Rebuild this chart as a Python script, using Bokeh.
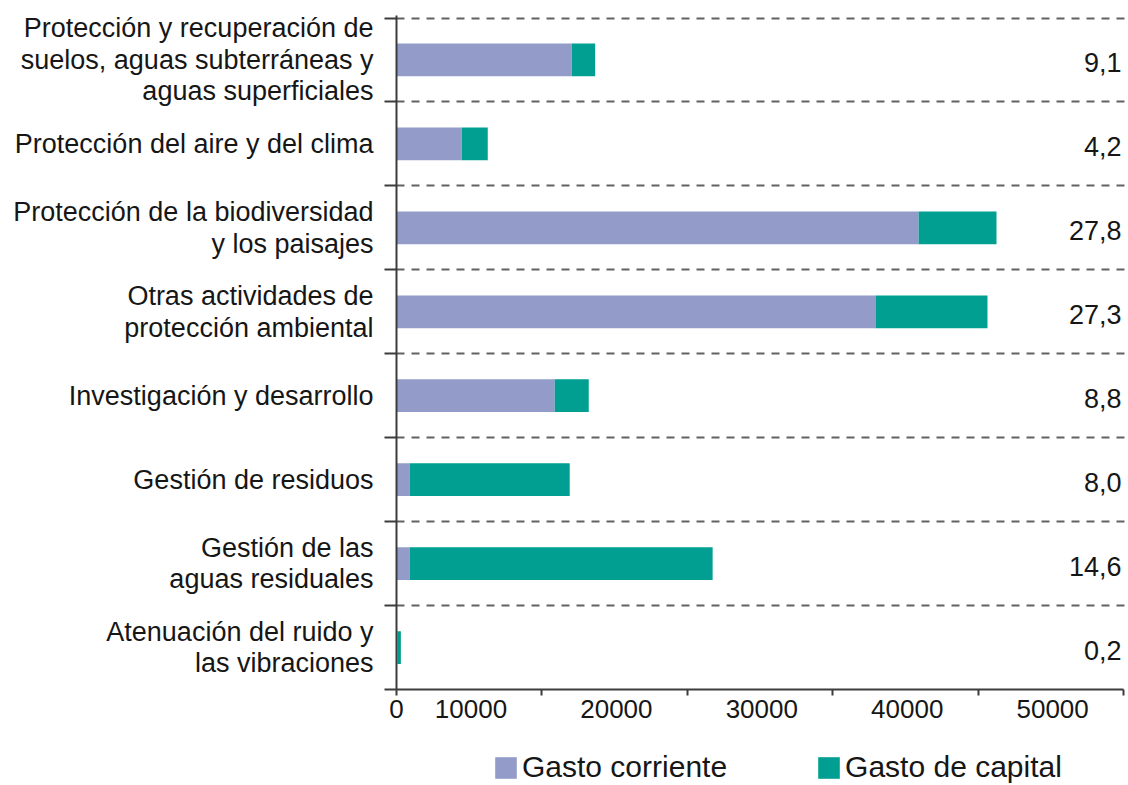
from bokeh.plotting import figure
from bokeh.layouts import column
from bokeh.models import Range1d, FixedTicker, Legend, LegendItem, ColumnDataSource
from bokeh.core.properties import value
from bokeh.embed import file_html
from bokeh.resources import INLINE

# ---- data ----
categories = [
    "Protección y recuperación de\nsuelos, aguas subterráneas y\naguas superficiales",
    "Protección del aire y del clima",
    "Protección de la biodiversidad\ny los paisajes",
    "Otras actividades de\nprotección ambiental",
    "Investigación y desarrollo",
    "Gestión de residuos",
    "Gestión de las\naguas residuales",
    "Atenuación del ruido y\nlas vibraciones",
]
gasto_corriente = [12050, 4490, 35900, 32940, 10880, 915, 915, 90]
gasto_capital = [1610, 1785, 5360, 7700, 2340, 10995, 20825, 210]
porcentaje = [9.1, 4.2, 27.8, 27.3, 8.8, 8.0, 14.6, 0.2]
x_ticks = [0, 10000, 20000, 30000, 40000, 50000]
x_tick_labels = ["0", "10000", "20000", "30000", "40000", "50000"]
series_names = ["Gasto corriente", "Gasto de capital"]
colors = ["#939CC8", "#009F91"]

# ---- styling constants ----
FONT = "Liberation Sans"
TEXT_COLOR = "#161616"
AXIS_COLOR = "#3c3c3c"
LABEL_SHIFT = 4880  # the reference prints tick labels shifted left of their tick marks

n = len(categories)
y_pos = [n - i - 0.5 for i in range(n)]

src = ColumnDataSource(dict(
    y=y_pos,
    corriente=gasto_corriente,
    capital=gasto_capital,
    lbl=[f"{v:.1f}".replace(".", ",") for v in porcentaje],
    xl=[x_ticks[-1]] * n,
))

p = figure(
    width=1128, height=738,
    x_range=Range1d(0, 50200), y_range=Range1d(0, n + 0.03),
    output_backend="svg", toolbar_location=None,
    min_border_left=396, min_border_right=2, min_border_top=15, min_border_bottom=49,
)
p.outline_line_color = None
p.background_fill_color = "white"

rs = p.hbar_stack(["corriente", "capital"], y="y", height=0.39, color=colors,
                  line_color=None, source=src)

p.text(x="xl", y="y", text="lbl", source=src, text_align="right",
       text_baseline="middle", x_offset=-2, y_offset=3, text_font=value(FONT),
       text_font_size="27px", text_color=TEXT_COLOR)

# y axis: labels at band centres, tick marks / dashed lines at band boundaries
y_ticker = FixedTicker(ticks=y_pos, minor_ticks=list(range(n + 1)))
p.yaxis.ticker = y_ticker
p.ygrid.ticker = y_ticker
p.yaxis.major_label_overrides = {y_pos[i]: categories[i] for i in range(n)}
p.yaxis.axis_line_color = AXIS_COLOR
p.yaxis.axis_line_width = 2
p.yaxis.major_tick_line_color = None
p.yaxis.major_tick_out = 0
p.yaxis.major_tick_in = 0
p.yaxis.minor_tick_line_color = AXIS_COLOR
p.yaxis.minor_tick_line_width = 2
p.yaxis.minor_tick_out = 12
p.yaxis.minor_tick_in = 0
p.yaxis.major_label_standoff = 11
p.yaxis.major_label_text_font = FONT
p.yaxis.major_label_text_font_size = "27px"
p.yaxis.major_label_text_color = TEXT_COLOR
p.yaxis.major_label_text_line_height = 1.05

p.ygrid.grid_line_color = None
p.ygrid.minor_grid_line_color = "#626262"
p.ygrid.minor_grid_line_width = 2
p.ygrid.minor_grid_line_dash = "8 7"
p.xgrid.visible = False

# x axis
label_pos = [x_ticks[0]] + [t - LABEL_SHIFT for t in x_ticks[1:]]
x_ticker = FixedTicker(ticks=label_pos, minor_ticks=x_ticks)
p.xaxis.ticker = x_ticker
p.xaxis.major_label_overrides = {label_pos[i]: x_tick_labels[i] for i in range(len(x_ticks))}
p.xaxis.bounds = (x_ticks[0], x_ticks[-1])
p.xaxis.axis_line_color = AXIS_COLOR
p.xaxis.axis_line_width = 2
p.xaxis.major_tick_line_color = None
p.xaxis.major_tick_out = 0
p.xaxis.major_tick_in = 0
p.xaxis.minor_tick_line_color = AXIS_COLOR
p.xaxis.minor_tick_line_width = 2
p.xaxis.minor_tick_out = 6
p.xaxis.minor_tick_in = 0
p.xaxis.major_label_standoff = 4
p.xaxis.major_label_text_font = FONT
p.xaxis.major_label_text_font_size = "26px"
p.xaxis.major_label_text_color = TEXT_COLOR

# ---- legend in its own strip below the chart ----
lg = figure(width=1128, height=46, x_range=Range1d(0, 1), y_range=Range1d(0, 1),
            x_axis_type=None, y_axis_type=None, output_backend="svg",
            toolbar_location=None, min_border=0)
lg.outline_line_color = None
lg.grid.visible = False
nan = float("nan")
# legend proxies (no visible data)
lr = [lg.hbar(y=[nan], right=[nan], height=1, color=c, line_color=None) for c in colors]
legend = Legend(
    items=[LegendItem(label=series_names[i], renderers=[lr[i]]) for i in range(2)],
    orientation="horizontal", location=(96, 0),
    glyph_width=27, glyph_height=27, label_standoff=3, spacing=88,
    padding=0, margin=0, border_line_color=None, background_fill_alpha=0,
    label_text_font=FONT, label_text_font_size="30px", label_text_color=TEXT_COLOR,
)
lg.add_layout(legend)

layout = column(p, lg, spacing=0)
open("out.html", "w").write(file_html(layout, INLINE))
